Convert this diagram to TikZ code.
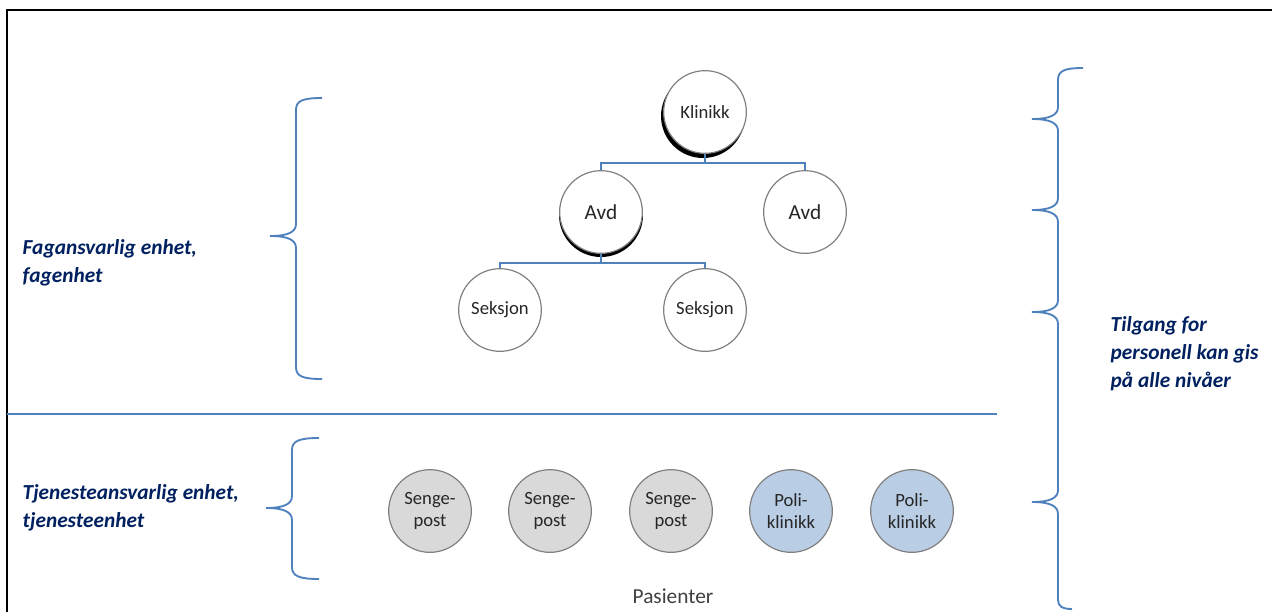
\documentclass[tikz,border=0pt]{standalone}
\usepackage{fontspec}
\setmainfont{Carlito}
\usetikzlibrary{positioning}
\usepackage{xcolor}

\definecolor{linjeblaa}{RGB}{79,129,189}
\definecolor{marine}{RGB}{0,32,96}
\definecolor{kantgraa}{RGB}{128,128,128}
\definecolor{sengegraa}{RGB}{217,217,217}
\definecolor{poliblaa}{RGB}{185,205,229}

\begin{document}
\begin{tikzpicture}[x=0.75pt, y=-0.75pt,
    enhet/.style={circle, draw=kantgraa, line width=0.9pt, minimum size=62pt, inner sep=0pt, align=center, text=black!85},
    fagnode/.style={enhet, fill=white, font=\fontsize{14}{16}\selectfont},
    sengenode/.style={enhet, fill=sengegraa, font=\fontsize{14}{16.5}\selectfont},
    polinode/.style={enhet, fill=poliblaa, font=\fontsize{14}{16.5}\selectfont},
    gren/.style={draw=linjeblaa, line width=1pt},
    klamme/.style={draw=linjeblaa, line width=1.4pt},
    etikett/.style={text=marine, align=left, font=\fontsize{16}{21}\selectfont\bfseries\itshape}]
    \useasboundingbox (0,0) rectangle (1272,612);

    % ramme og skillelinje
    \draw[line width=1.5pt] (7,612) -- (7,10) -- (1272,10);
    \draw[linjeblaa, line width=1.2pt] (7,414) -- (997,414);

    % fagenheter
    \fill[black] (703,116) circle (42);
    \fill[black] (601,215) circle (42);
    \node[fagnode] (klinikk) at (705,112) {Klinikk};
    \node[fagnode, font=\fontsize{16}{18}\selectfont] (avdA) at (601,212) {Avd};
    \node[fagnode, font=\fontsize{16}{18}\selectfont] (avdB) at (805,212) {Avd};
    \node[fagnode] (seksjonA) at (500,310) {Seksjon};
    \node[fagnode] (seksjonB) at (705,310) {Seksjon};

    \coordinate (k1) at (705,163);
    \coordinate (a1) at (601,263);
    \draw[gren] (klinikk) -- (k1) -| (avdA);
    \draw[gren] (k1) -| (avdB);
    \draw[gren] (avdA) -- (a1) -| (seksjonA);
    \draw[gren] (a1) -| (seksjonB);

    % tjenesteenheter
    \node[sengenode] (sengeA) at (430,511) {Senge-\\post};
    \node[sengenode] (sengeB) at (550,511) {Senge-\\post};
    \node[sengenode] (sengeC) at (671,511) {Senge-\\post};
    \node[polinode] (poliA) at (791,511) {Poli-\\klinikk};
    \node[polinode] (poliB) at (912,511) {Poli-\\klinikk};
    \node[text=black!75, font=\fontsize{16}{18}\selectfont] (pasienter) at (673,596) {Pasienter};

    % klammer
    \draw[klamme] (322,98) .. controls (302,98) and (296,101) .. (296,110) -- (296,224)
        .. controls (296,232) and (288,236) .. (270,236) .. controls (288,236) and (296,240) .. (296,248)
        -- (296,367) .. controls (296,376) and (302,379) .. (322,379);
    \draw[klamme] (319,438) .. controls (299,438) and (292,441) .. (292,450) -- (292,496)
        .. controls (292,504) and (284,508) .. (266,508) .. controls (284,508) and (292,512) .. (292,520)
        -- (292,567) .. controls (292,576) and (299,579) .. (319,579);
    \draw[klamme] (1083,68) .. controls (1064,68) and (1058,71) .. (1058,80) -- (1058,107)
        .. controls (1058,115) and (1050,119) .. (1032,119) .. controls (1050,119) and (1058,123) .. (1058,131)
        -- (1058,198)
        .. controls (1058,206) and (1050,210) .. (1032,210) .. controls (1050,210) and (1058,214) .. (1058,222)
        -- (1058,300)
        .. controls (1058,308) and (1050,312) .. (1032,312) .. controls (1050,312) and (1058,316) .. (1058,324)
        -- (1058,490)
        .. controls (1058,498) and (1050,502) .. (1032,502) .. controls (1050,502) and (1058,506) .. (1058,514)
        -- (1058,600) .. controls (1058,606) and (1062,609) .. (1072,609);

    % tekster
    \node[etikett, anchor=west] (fagenhet) at (18,263) {Fagansvarlig enhet,\\fagenhet};
    \node[etikett, anchor=west] (tjenesteenhet) at (18,508) {Tjenesteansvarlig enhet,\\tjenesteenhet};
    \node[etikett, anchor=west] (tilgang) at (1106,354) {Tilgang for\\personell kan gis\\på alle nivåer};
\end{tikzpicture}
\end{document}
